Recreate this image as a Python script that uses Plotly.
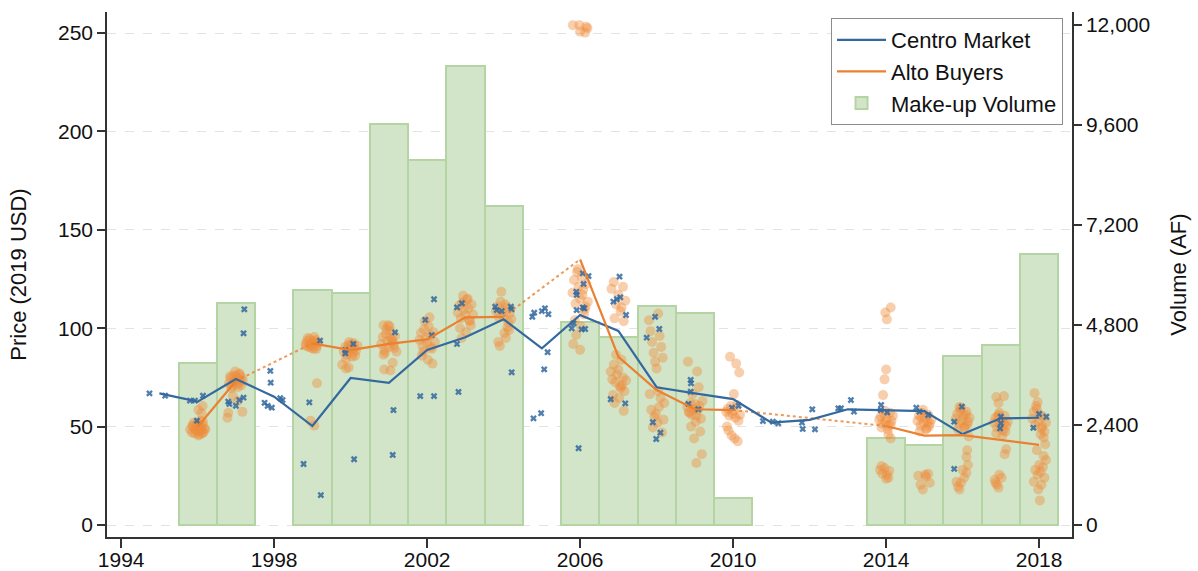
import plotly.graph_objects as go

# ---- Make-up volume (acre-feet) by year ----
vol_years = [1996, 1997, 1999, 2000, 2001, 2002, 2003, 2004,
             2006, 2007, 2008, 2009, 2010, 2014, 2015, 2016, 2017, 2018]
vol_af = [3900, 5340, 5640, 5570, 9620, 8760, 11020, 7660,
          4880, 4510, 5250, 5100, 640, 2100, 1920, 4060, 4320, 6500]

# ---- Average prices (2019 USD) ----
centro_years = list(range(1995, 2019))
centro_avg = [66.9, 62.7, 74.2, 65.2, 50.3, 74.7, 72.2, 88.9, 95.4, 104.5, 89.8, 106.7,
              98.6, 70.0, 66.9, 64.0, 52.0, 53.4, 58.8, 58.4, 57.9, 46.2, 54.2, 54.5]

alto_years = [1996, 1997, 1998, 1999, 2000, 2001, 2002, 2003, 2004, 2005, 2006, 2007,
              2008, 2009, 2010, 2011, 2012, 2013, 2014, 2015, 2016, 2017, 2018]
alto_avg = [49.9, 73.2, None, 92.3, 88.9, 92.0, 94.3, 105.5, 105.8, None, 135.0, 85.5,
            68.6, 58.8, 58.4, None, None, None, 50.3, 45.4, 45.7, 43.2, 40.7]

# ---- Individual Centro Market transactions (year, price) ----
centro_trades = [
    (1994.74, 66.9), (1995.15, 65.7), (1995.80, 63.2), (1995.93, 63.2), (1996.14, 65.7), (1995.98, 53.0),
    (1997.22, 109.6), (1997.20, 97.4), (1996.80, 62.7), (1996.83, 61.5), (1997.00, 60.6), (1997.09, 63.5),
    (1997.20, 64.7), (1997.90, 78.3), (1997.91, 72.3), (1997.75, 62.1), (1997.83, 60.5), (1997.94, 59.6),
    (1998.16, 64.4), (1998.22, 63.5), (1998.92, 62.3), (1998.77, 31.0), (1999.22, 15.2), (1999.20, 93.7),
    (1999.86, 88.9), (1999.86, 87.2), (2000.07, 92.0), (2000.09, 33.4),
    (2001.12, 58.4), (2001.10, 35.6), (2001.16, 97.9),
    (2002.18, 114.7), (2001.95, 104.2), (2002.12, 96.5), (2001.82, 65.5), (2002.18, 65.5),
    (2002.78, 110.6), (2002.91, 112.7), (2002.78, 92.0), (2002.82, 67.6),
    (2003.78, 110.9), (2003.82, 109.2), (2003.95, 108.7), (2004.19, 110.9), (2004.21, 109.6), (2004.21, 77.6),
    (2004.75, 105.8), (2004.80, 107.9), (2005.00, 108.7), (2005.08, 110.1), (2005.17, 107.1),
    (2005.15, 87.8), (2005.06, 79.1), (2004.78, 54.2), (2004.98, 56.8),
    (2005.90, 118.5), (2005.91, 116.9), (2006.07, 127.9), (2006.22, 126.5), (2006.09, 122.5),
    (2006.11, 110.1), (2006.07, 110.6), (2005.91, 109.2), (2006.04, 99.4), (2006.13, 99.6),
    (2005.83, 102.5), (2005.78, 99.9), (2005.96, 39.0),
    (2007.03, 126.2), (2006.87, 113.5), (2006.96, 114.7), (2007.05, 115.7), (2007.20, 106.7),
    (2006.80, 63.9), (2007.18, 61.8),
    (2007.96, 105.8), (2008.07, 99.6), (2007.74, 95.2), (2007.90, 52.2), (2008.10, 46.9), (2007.99, 43.7),
    (2008.89, 73.7), (2008.90, 72.0), (2008.89, 67.7), (2008.83, 61.5), (2009.09, 58.8),
    (2009.97, 59.6), (2010.14, 60.6),
    (2010.78, 52.8), (2011.04, 52.5), (2011.18, 51.7), (2011.80, 52.0), (2011.82, 48.8), (2012.14, 48.6),
    (2012.07, 58.8), (2012.75, 59.3), (2012.82, 59.3), (2013.08, 63.5), (2013.16, 57.6),
    (2013.87, 61.0), (2013.86, 58.4), (2014.03, 57.3), (2014.79, 59.6), (2014.87, 57.6), (2015.10, 55.9),
    (2015.98, 60.1), (2015.78, 52.5), (2015.78, 28.5),
    (2017.00, 55.0), (2017.00, 51.7), (2016.98, 49.1), (2018.00, 56.4), (2018.19, 55.0), (2017.85, 49.4),
]

# ---- Individual Alto buyer transactions (year, price), one list per year ----
alto_1996 = [(1995.80, 48.5), (1995.85, 47.0), (1995.88, 50.0), (1995.92, 46.5), (1995.95, 49.0),
             (1995.98, 51.5), (1996.00, 47.5), (1996.03, 50.5), (1996.05, 46.0), (1996.08, 49.5),
             (1996.10, 48.0), (1996.13, 51.0), (1996.15, 47.0), (1996.18, 49.0), (1995.90, 52.0),
             (1996.02, 45.5), (1996.07, 53.0), (1995.96, 48.0), (1996.12, 46.5), (1995.86, 50.5),
             (1996.14, 52.5), (1996.20, 48.5), (1996.04, 49.5), (1996.13, 60.5), (1996.10, 56.8),
             (1996.02, 58.5)]
alto_1997 = [(1996.82, 72.0), (1996.86, 74.5), (1996.90, 70.5), (1996.93, 76.0), (1996.96, 73.0),
             (1997.00, 75.5), (1997.03, 71.5), (1997.06, 74.0), (1997.09, 77.0), (1997.12, 72.5),
             (1997.15, 75.0), (1997.18, 73.5), (1996.88, 69.5), (1996.98, 78.0), (1997.05, 70.0),
             (1997.10, 76.5), (1996.94, 72.5), (1997.02, 74.0), (1997.14, 71.0), (1996.85, 75.5),
             (1996.80, 57.0), (1996.78, 54.5), (1997.17, 57.5), (1996.92, 65.5), (1997.05, 63.0)]
alto_1999 = [(1998.82, 92.0), (1998.86, 93.5), (1998.90, 90.5), (1998.93, 94.5), (1998.96, 91.5),
             (1999.00, 93.0), (1999.03, 89.5), (1999.06, 92.5), (1999.09, 94.0), (1999.12, 91.0),
             (1999.15, 92.5), (1998.88, 95.0), (1998.98, 90.0), (1999.05, 95.5), (1999.10, 89.5),
             (1998.84, 91.0), (1999.02, 93.5), (1999.12, 72.0), (1998.95, 53.0), (1999.05, 50.5)]
alto_2000 = [(1999.82, 88.0), (1999.86, 90.5), (1999.90, 86.5), (1999.94, 91.5), (1999.98, 89.0),
             (2000.02, 92.0), (2000.06, 87.5), (2000.10, 90.0), (2000.14, 88.5), (2000.18, 91.0),
             (1999.88, 84.5), (1999.96, 93.0), (2000.04, 85.5), (2000.12, 86.0), (1999.92, 89.5),
             (2000.08, 92.5), (1999.78, 81.5), (1999.95, 80.0), (1999.88, 79.5)]
alto_2001 = [(2000.80, 92.0), (2000.84, 95.5), (2000.88, 89.0), (2000.92, 97.0), (2000.96, 93.5),
             (2001.00, 90.5), (2001.04, 98.5), (2001.08, 94.0), (2001.12, 91.5), (2001.16, 96.0),
             (2001.20, 88.0), (2000.86, 86.5), (2000.94, 99.5), (2001.02, 101.0), (2001.10, 93.0),
             (2000.90, 87.5), (2001.06, 95.0), (2001.14, 90.0), (2000.86, 101.5), (2000.98, 101.5),
             (2000.88, 79.0), (2001.04, 78.5), (2001.10, 82.5)]
alto_2002 = [(2001.80, 94.0), (2001.84, 97.5), (2001.88, 91.0), (2001.92, 99.5), (2001.96, 95.0),
             (2002.00, 92.5), (2002.04, 101.0), (2002.08, 96.5), (2002.12, 89.5), (2002.16, 98.0),
             (2002.20, 93.0), (2001.86, 86.0), (2001.94, 103.5), (2002.02, 84.0), (2002.10, 90.5),
             (2001.90, 88.0), (2002.06, 105.5), (2002.14, 82.0)]
alto_2003 = [(2002.80, 108.0), (2002.84, 111.5), (2002.88, 105.0), (2002.92, 113.0), (2002.96, 109.5),
             (2003.00, 106.5), (2003.04, 114.5), (2003.08, 110.0), (2003.12, 103.5), (2003.16, 112.0),
             (2003.20, 107.0), (2002.86, 100.0), (2002.94, 116.5), (2003.02, 98.0), (2003.10, 104.0),
             (2002.90, 95.0), (2003.06, 115.0), (2003.14, 101.5)]
alto_2004 = [(2003.80, 108.5), (2003.84, 111.0), (2003.88, 105.5), (2003.92, 113.5), (2003.96, 109.0),
             (2004.00, 106.0), (2004.04, 112.0), (2004.08, 110.5), (2004.12, 103.0), (2004.16, 107.5),
             (2004.20, 104.5), (2003.86, 93.0), (2003.94, 118.5), (2004.02, 97.5), (2004.10, 100.5),
             (2003.90, 91.0), (2004.06, 95.0), (2004.14, 99.0)]
alto_2006 = [(2005.80, 118.0), (2005.84, 124.5), (2005.88, 112.5), (2005.92, 128.5), (2005.96, 121.0),
             (2006.00, 115.0), (2006.04, 126.0), (2006.08, 119.5), (2006.12, 109.5), (2006.16, 122.5),
             (2006.20, 113.5), (2005.86, 104.0), (2005.94, 130.0), (2006.02, 101.0), (2006.10, 107.0),
             (2005.90, 96.5), (2006.06, 117.0), (2006.14, 111.0), (2005.82, 92.0), (2006.00, 89.0),
             (2005.81, 254.0), (2005.98, 254.0), (2006.16, 253.2), (2006.00, 250.7), (2006.13, 250.2),
             (2006.19, 252.4)]
alto_2007 = [(2006.82, 120.0), (2006.88, 123.5), (2006.94, 112.0), (2007.00, 117.0), (2007.06, 108.5),
             (2007.12, 121.0), (2007.18, 114.0), (2006.90, 105.0), (2007.08, 110.5), (2007.14, 103.5),
             (2006.80, 78.0), (2006.84, 74.0), (2006.88, 81.5), (2006.92, 72.5), (2006.96, 76.5),
             (2007.00, 79.0), (2007.04, 70.5), (2007.08, 84.0), (2007.12, 75.0), (2007.16, 68.0),
             (2007.20, 73.5), (2006.86, 66.0), (2006.94, 86.5), (2007.02, 64.5), (2007.10, 71.0),
             (2006.90, 62.0), (2007.06, 69.5), (2007.14, 58.0)]
alto_2008 = [(2007.80, 104.0), (2007.84, 98.5), (2007.88, 93.0), (2007.92, 87.5), (2007.96, 83.0),
             (2008.00, 79.5), (2008.04, 107.5), (2008.08, 96.0), (2008.12, 90.5), (2008.16, 85.0),
             (2008.20, 62.0), (2007.86, 58.5), (2007.94, 55.0), (2008.02, 52.0), (2008.10, 64.5),
             (2007.90, 49.5), (2008.06, 60.0), (2008.14, 47.0), (2007.82, 66.5), (2007.98, 56.5),
             (2008.18, 53.5), (2008.04, 68.0)]
alto_2009 = [(2008.80, 60.0), (2008.84, 57.5), (2008.88, 62.0), (2008.92, 56.0), (2008.96, 59.0),
             (2009.00, 61.5), (2009.04, 55.5), (2009.08, 58.5), (2009.12, 60.5), (2009.16, 54.0),
             (2009.20, 63.0), (2008.86, 57.0), (2008.94, 66.5), (2009.02, 52.5), (2009.10, 70.0),
             (2008.90, 50.0), (2009.06, 78.0), (2009.14, 47.5), (2008.82, 83.0), (2008.98, 44.0),
             (2009.18, 36.0), (2009.04, 31.5)]
alto_2010 = [(2009.82, 57.5), (2009.86, 59.0), (2009.90, 55.5), (2009.94, 60.5), (2009.98, 56.5),
             (2010.02, 58.0), (2010.06, 54.5), (2010.10, 61.0), (2010.14, 53.0), (2010.18, 56.0),
             (2009.88, 48.0), (2009.96, 45.5), (2010.04, 44.0), (2010.12, 42.5), (2009.92, 85.5),
             (2010.08, 82.0), (2010.16, 77.5), (2009.84, 50.0), (2010.02, 66.5)]
alto_2014 = [(2013.82, 53.5), (2013.86, 55.0), (2013.90, 51.5), (2013.94, 56.5), (2013.98, 52.5),
             (2014.02, 54.0), (2014.06, 50.5), (2014.10, 57.0), (2014.14, 53.0), (2014.18, 55.5),
             (2013.88, 49.5), (2013.96, 58.0), (2014.04, 48.5), (2014.12, 51.0),
             (2014.02, 104.5), (2014.12, 110.5), (2013.98, 108.0), (2014.00, 79.0), (2013.96, 74.0),
             (2013.92, 66.0), (2013.84, 28.0), (2013.90, 26.0), (2013.96, 29.0), (2014.02, 25.5),
             (2014.08, 27.5), (2014.06, 24.0), (2013.88, 30.0), (2014.00, 23.5), (2014.06, 46.0),
             (2014.12, 44.0)]
alto_2015 = [(2014.82, 53.0), (2014.86, 55.5), (2014.90, 50.5), (2014.94, 57.0), (2014.98, 52.0),
             (2015.02, 54.5), (2015.06, 49.0), (2015.10, 56.0), (2015.14, 51.5), (2015.18, 53.5),
             (2014.88, 47.5), (2014.96, 58.5), (2015.04, 48.5), (2015.12, 50.0), (2014.92, 55.0),
             (2015.08, 52.5), (2014.84, 25.0), (2014.90, 20.5), (2014.96, 18.0), (2015.04, 24.5),
             (2015.10, 26.0), (2015.14, 21.5), (2015.02, 25.5)]
alto_2016 = [(2015.82, 54.0), (2015.86, 56.5), (2015.90, 51.5), (2015.94, 58.0), (2015.98, 53.0),
             (2016.02, 55.5), (2016.06, 50.0), (2016.10, 57.5), (2016.14, 52.5), (2016.18, 54.5),
             (2015.88, 48.5), (2015.96, 59.5), (2016.04, 49.5), (2016.12, 51.0), (2015.92, 60.0),
             (2016.08, 56.0), (2016.16, 45.0), (2016.12, 38.0), (2016.10, 34.5), (2016.14, 30.5),
             (2016.00, 28.0), (2015.84, 22.0), (2015.88, 19.5), (2015.96, 21.5), (2016.04, 24.0),
             (2016.10, 26.5), (2015.92, 18.0)]
alto_2017 = [(2016.82, 52.0), (2016.86, 54.5), (2016.90, 49.5), (2016.94, 56.0), (2016.98, 51.0),
             (2017.02, 53.5), (2017.06, 48.0), (2017.10, 55.5), (2017.14, 50.5), (2017.18, 52.5),
             (2016.88, 46.5), (2016.96, 57.0), (2017.04, 45.5), (2017.12, 47.5), (2016.92, 55.0),
             (2017.08, 51.5), (2016.88, 65.0), (2017.08, 65.5), (2016.94, 62.0), (2017.14, 38.5),
             (2017.10, 36.0), (2016.84, 23.0), (2016.90, 20.5), (2016.96, 25.5), (2017.02, 24.0),
             (2016.94, 19.0), (2016.86, 21.5)]
alto_2018 = [(2017.82, 54.0), (2017.86, 57.5), (2017.90, 51.0), (2017.94, 59.0), (2017.98, 53.0),
             (2018.02, 56.0), (2018.06, 49.0), (2018.10, 55.0), (2018.14, 47.5), (2018.18, 52.0),
             (2017.88, 67.0), (2017.96, 62.5), (2018.04, 46.0), (2018.12, 44.5), (2017.92, 60.5),
             (2018.08, 50.0), (2018.16, 41.0), (2018.12, 35.0), (2018.18, 33.0), (2017.94, 38.0),
             (2017.90, 28.0), (2017.96, 25.5), (2018.04, 27.0), (2018.10, 29.5), (2018.14, 24.0),
             (2017.86, 22.0), (2018.00, 30.5), (2018.06, 20.5), (2018.02, 12.5), (2017.98, 18.0)]

alto_trades = (alto_1996 + alto_1997 + alto_1999 + alto_2000 + alto_2001 + alto_2002 + alto_2003
               + alto_2004 + alto_2006 + alto_2007 + alto_2008 + alto_2009 + alto_2010 + alto_2014
               + alto_2015 + alto_2016 + alto_2017 + alto_2018)

# ---- Axis tick labels ----
price_ticks = [0, 50, 100, 150, 200, 250]
volume_ticks = [0, 2400, 4800, 7200, 9600, 12000]
year_ticks = [1994, 1998, 2002, 2006, 2010, 2014, 2018]

BLUE = "#33699f"
ORANGE = "#ea8130"
FONT = "Liberation Sans, Arial, sans-serif"

# dotted bridges across years with no Alto average
bridge_x, bridge_y = [], []
for i, v in enumerate(alto_avg):
    if v is None and i > 0 and alto_avg[i - 1] is not None:
        j = i
        while alto_avg[j] is None:
            j += 1
        bridge_x += [alto_years[i - 1], alto_years[j], None]
        bridge_y += [alto_avg[i - 1], alto_avg[j], None]

fig = go.Figure()

fig.add_trace(go.Bar(
    x=vol_years, y=vol_af, width=1.0, name="Make-up Volume", yaxis="y",
    marker=dict(color="#d3e5c8", line=dict(color="#b4d5a3", width=2)),
    legendrank=3,
))

fig.add_trace(go.Scatter(
    x=[p[0] for p in alto_trades], y=[p[1] for p in alto_trades], yaxis="y2",
    mode="markers", showlegend=False,
    marker=dict(color="#ef8c3c", size=10, opacity=0.42, line=dict(width=0)),
))

fig.add_trace(go.Scatter(
    x=[p[0] for p in centro_trades], y=[p[1] for p in centro_trades], yaxis="y2",
    mode="markers", showlegend=False,
    marker=dict(symbol="x", color=BLUE, size=6, opacity=0.85, line=dict(width=0)),
))

fig.add_trace(go.Scatter(
    x=bridge_x, y=bridge_y, yaxis="y2", mode="lines", showlegend=False,
    line=dict(color=ORANGE, width=2, dash="dot"), opacity=0.8,
))

fig.add_trace(go.Scatter(
    x=centro_years, y=centro_avg, yaxis="y2", mode="lines", name="Centro Market",
    line=dict(color=BLUE, width=2.2), legendrank=1,
))

fig.add_trace(go.Scatter(
    x=alto_years, y=alto_avg, yaxis="y2", mode="lines", name="Alto Buyers",
    connectgaps=False, line=dict(color=ORANGE, width=2.2), legendrank=2,
))

axis_common = dict(
    showline=True, linecolor="#333333", linewidth=1.5,
    ticks="outside", tickwidth=1.5, tickcolor="#333333",
    tickfont=dict(family=FONT, size=21, color="#111111"),
    zeroline=False, automargin=False,
)

fig.update_layout(
    width=1198, height=571,
    margin=dict(l=107, r=126, t=12, b=34),
    paper_bgcolor="white", plot_bgcolor="white",
    font=dict(family=FONT, size=21, color="#111111"),
    bargap=0,
    xaxis=dict(range=[1993.63, 2018.86], tickvals=year_ticks, showgrid=False,
               ticklen=9, ticklabelstandoff=-6, **axis_common),
    yaxis=dict(
        range=[-288, 12312], side="right", tickvals=volume_ticks, tickformat=",d",
        showgrid=False, ticklen=8,
        title=dict(text="Volume (AF)", font=dict(size=22), standoff=21),
        **axis_common,
    ),
    yaxis2=dict(
        range=[-6.1, 260.67], side="left", overlaying="y", tickvals=price_ticks,
        showgrid=True, gridcolor="#e3e3e3", griddash="dash", gridwidth=1.2, ticklen=8,
        title=dict(text="Price (2019 USD)", font=dict(size=22), standoff=25),
        **axis_common,
    ),
    legend=dict(
        x=0.9907, y=0.9886, xanchor="right", yanchor="top",
        bgcolor="white", bordercolor="#8c8c8c", borderwidth=1,
        font=dict(family=FONT, size=22, color="#111111"),
        traceorder="normal", itemwidth=49,
    ),
)

fig.write_html("out.html")
